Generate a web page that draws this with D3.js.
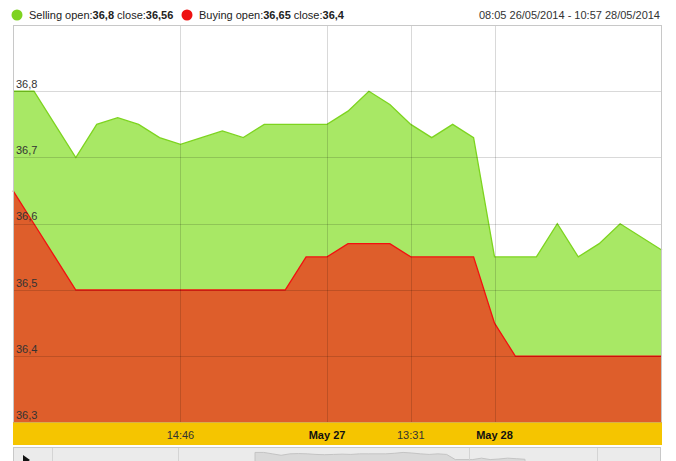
<!DOCTYPE html>
<html><head><meta charset="utf-8">
<script src="https://cdn.jsdelivr.net/npm/d3@7"></script>
<style>
html,body{margin:0;padding:0;background:#fff;overflow:hidden}
svg{display:block;font-family:Arial,"Liberation Sans",Helvetica,sans-serif}
</style></head>
<body>
<script>
// ---- data ----
const selling = [36.8,36.8,36.75,36.7,36.75,36.76,36.75,36.73,36.72,36.73,36.74,36.73,36.75,36.75,36.75,36.75,36.77,36.8,36.78,36.75,36.73,36.75,36.73,36.55,36.55,36.55,36.6,36.55,36.57,36.6,36.58,36.56];
const buying  = [36.65,36.6,36.55,36.5,36.5,36.5,36.5,36.5,36.5,36.5,36.5,36.5,36.5,36.5,36.55,36.55,36.57,36.57,36.57,36.55,36.55,36.55,36.55,36.45,36.4,36.4,36.4,36.4,36.4,36.4,36.4,36.4];
const yTicks = [36.3,36.4,36.5,36.6,36.7,36.8];
const xTickIdx = [8,15,19,23];
const xTickLabels = ["14:46","May 27","13:31","May 28"];
const xTickBold = [false,true,false,true];
const navTickX = [0.06,0.254,0.703,0.9];

const W=676,H=461;
const L=13,R=662,T=25,B=422.5;
const svg=d3.select("body").append("svg").attr("width",W).attr("height",H);

const x=d3.scaleLinear().domain([0,selling.length-1]).range([L,R]);
const y=d3.scaleLinear().domain([36.3,36.9]).range([B,T]);
const fmt=v=>d3.format(".1f")(v).replace(".",",");

// frame
svg.append("rect").attr("x",L).attr("y",T).attr("width",R-L).attr("height",B-T).attr("fill","#fff");

// areas
const areaG=d3.area().x((d,i)=>x(i)).y0(B).y1(d=>y(d));
const lineG=d3.line().x((d,i)=>x(i)).y(d=>y(d));
svg.append("path").datum(selling).attr("d",areaG).attr("fill","#a8e865");
svg.append("path").datum(selling).attr("d",lineG).attr("fill","none").attr("stroke","#7dd41f").attr("stroke-width",1.3);
svg.append("path").datum(buying).attr("d",areaG).attr("fill","#de5e2b");
svg.append("path").datum(buying).attr("d",lineG).attr("fill","none").attr("stroke","#f21010").attr("stroke-width",1.3);

// gridlines
svg.append("g").selectAll("line").data(yTicks.slice(1)).join("line")
  .attr("x1",L).attr("x2",R).attr("y1",d=>Math.round(y(d))+0.5).attr("y2",d=>Math.round(y(d))+0.5)
  .attr("stroke","rgba(0,0,0,0.15)");
svg.append("g").selectAll("line").data(xTickIdx).join("line")
  .attr("y1",T).attr("y2",B).attr("x1",d=>Math.round(x(d))+0.5).attr("x2",d=>Math.round(x(d))+0.5)
  .attr("stroke","rgba(0,0,0,0.15)");

// frame lines
svg.append("line").attr("x1",L).attr("x2",R).attr("y1",T+0.5).attr("y2",T+0.5).attr("stroke","#c8c8c8");
svg.append("line").attr("x1",L+0.5).attr("x2",L+0.5).attr("y1",T).attr("y2",B).attr("stroke","#c8c8c8");
svg.append("line").attr("x1",R-0.5).attr("x2",R-0.5).attr("y1",T).attr("y2",B).attr("stroke","#c8c8c8");

// y labels
svg.append("g").selectAll("text").data(yTicks).join("text")
  .attr("x",16).attr("y",d=>y(d)-3.5).attr("font-size",11).attr("fill","#333").text(fmt);

// x band
svg.append("rect").attr("x",L).attr("y",423).attr("width",R-L).attr("height",22).attr("fill","#f5c500");
svg.append("line").attr("x1",L).attr("x2",R).attr("y1",422.5).attr("y2",422.5).attr("stroke","#d8b04a");
svg.append("g").selectAll("text").data(xTickIdx).join("text")
  .attr("x",d=>x(d)).attr("y",439).attr("text-anchor","middle").attr("font-size",11)
  .attr("font-weight",(d,i)=>xTickBold[i]?"bold":"normal").attr("fill",(d,i)=>xTickBold[i]?"#111":"#333")
  .text((d,i)=>xTickLabels[i]);

// navigator
svg.append("rect").attr("x",L+0.5).attr("y",447.5).attr("width",R-L-2).attr("height",20).attr("fill","#ebebeb").attr("stroke","#c8c8c8");
const nx=d3.scaleLinear().domain([0,selling.length-1]).range([255,525]);
const ny=d3.scaleLinear().domain([36.5,36.85]).range([461,451]);
svg.append("path").datum(selling).attr("fill","#d9d9d9").attr("stroke","#c4c4c4")
  .attr("d",d3.area().x((d,i)=>nx(i)).y0(462).y1(d=>ny(d)));
svg.append("g").selectAll("line").data(navTickX).join("line")
  .attr("x1",d=>Math.round(L+d*(R-L))+0.5).attr("x2",d=>Math.round(L+d*(R-L))+0.5)
  .attr("y1",448).attr("y2",461).attr("stroke","#d4d4d4");
svg.append("path").attr("d","M23,455 L30,460 L23,465 Z").attr("fill","#111");

// legend
function legendItem(cx,color,parts){
  svg.append("circle").attr("cx",cx).attr("cy",15).attr("r",5.5).attr("fill",color);
  const t=svg.append("text").attr("x",cx+12).attr("y",19).attr("font-size",11).attr("fill","#222");
  parts.forEach(p=>t.append("tspan").attr("font-weight",p[1]?"bold":"normal").text(p[0]));
}
legendItem(17,"#7ed321",[["Selling open:",0],[fmt(selling[0]).replace(/,0$/,""),1],[" close:",0],[String(selling[selling.length-1]).replace(".",","),1]]);
legendItem(187,"#ee1111",[["Buying open:",0],[String(buying[0]).replace(".",","),1],[" close:",0],[String(buying[buying.length-1]).replace(".",","),1]]);
svg.append("text").attr("x",660).attr("y",19).attr("text-anchor","end").attr("font-size",11).attr("fill","#333")
  .text("08:05 26/05/2014 - 10:57 28/05/2014");
</script>
</body></html>
